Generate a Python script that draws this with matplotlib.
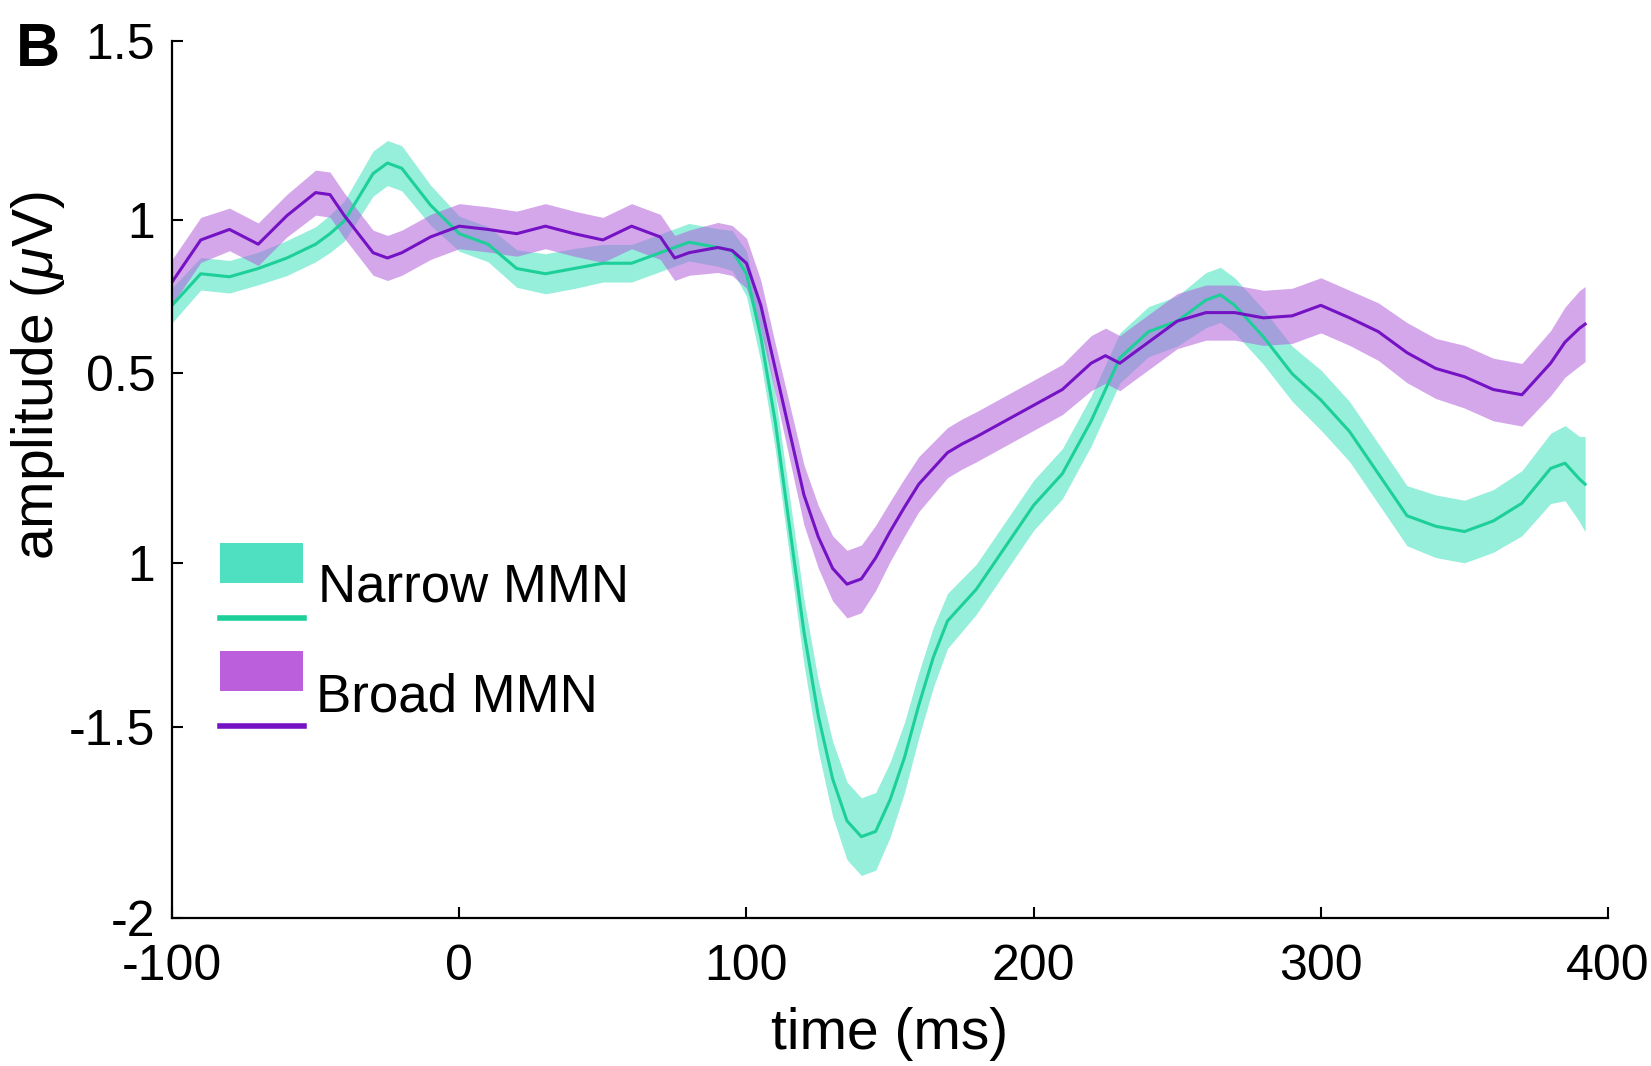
import numpy as np
import matplotlib
matplotlib.use('Agg')
import matplotlib.pyplot as plt
from matplotlib.patches import Rectangle
from matplotlib.lines import Line2D

plt.rcParams['font.family'] = ['Liberation Sans', 'DejaVu Sans']
plt.rcParams['mathtext.fontset'] = 'custom'
plt.rcParams['mathtext.it'] = 'Liberation Sans:italic'
plt.rcParams['mathtext.rm'] = 'Liberation Sans'

# time axis (ms), shared by both conditions
time_ms = [-100, -90, -80, -70, -60, -50, -45, -40, -30, -25, -20, -10, 0, 10, 20,
           30, 40, 50, 60, 70, 75, 80, 90, 95, 100, 105, 110, 115, 120, 125,
           130, 135, 140, 145, 150, 155, 160, 165, 170, 175, 180, 190, 200, 210, 220,
           225, 230, 240, 250, 260, 265, 270, 280, 290, 300, 310, 320, 330, 340, 350,
           360, 370, 380, 385, 390, 392]

# Narrow MMN mean and sem
narrow_mean = [0.445, 0.571, 0.559, 0.592, 0.634, 0.689, 0.731, 0.782, 0.971, 1.013,
               0.992, 0.845, 0.731, 0.689, 0.592, 0.571, 0.592, 0.613, 0.613, 0.655,
               0.676, 0.697, 0.676, 0.664, 0.571, 0.319, -0.017, -0.437, -0.857, -1.193,
               -1.445, -1.613, -1.676, -1.655, -1.529, -1.361, -1.151, -0.962, -0.815, -0.752,
               -0.689, -0.521, -0.353, -0.227, -0.017, 0.109, 0.235, 0.340, 0.382, 0.466,
               0.487, 0.445, 0.319, 0.172, 0.067, -0.059, -0.227, -0.395, -0.437, -0.458,
               -0.416, -0.345, -0.206, -0.185, -0.248, -0.269]
narrow_sem = [0.07, 0.065, 0.065, 0.065, 0.07, 0.07, 0.075, 0.08, 0.09, 0.09,
              0.09, 0.08, 0.07, 0.07, 0.075, 0.08, 0.08, 0.075, 0.075, 0.075,
              0.075, 0.075, 0.075, 0.08, 0.09, 0.1, 0.11, 0.12, 0.13, 0.14,
              0.15, 0.155, 0.155, 0.155, 0.15, 0.14, 0.13, 0.12, 0.11, 0.105,
              0.1, 0.1, 0.1, 0.1, 0.1, 0.1, 0.1, 0.1, 0.1, 0.11,
              0.11, 0.11, 0.11, 0.11, 0.12, 0.12, 0.12, 0.12, 0.125, 0.125,
              0.125, 0.13, 0.14, 0.15, 0.17, 0.19]

# Broad MMN mean and sem
broad_mean = [0.538, 0.706, 0.748, 0.689, 0.803, 0.895, 0.887, 0.803, 0.655, 0.634,
              0.655, 0.718, 0.761, 0.748, 0.731, 0.761, 0.731, 0.706, 0.761, 0.718,
              0.634, 0.655, 0.676, 0.664, 0.613, 0.445, 0.193, -0.059, -0.311, -0.479,
              -0.605, -0.668, -0.647, -0.563, -0.458, -0.361, -0.269, -0.206, -0.143, -0.109,
              -0.080, -0.017, 0.046, 0.109, 0.214, 0.244, 0.214, 0.298, 0.382, 0.416,
              0.416, 0.416, 0.395, 0.403, 0.445, 0.395, 0.340, 0.256, 0.193, 0.160,
              0.109, 0.088, 0.214, 0.298, 0.353, 0.370]
broad_sem = [0.09, 0.09, 0.085, 0.085, 0.085, 0.09, 0.09, 0.09, 0.09, 0.09,
             0.09, 0.09, 0.09, 0.09, 0.09, 0.09, 0.09, 0.09, 0.09, 0.09,
             0.09, 0.09, 0.1, 0.1, 0.1, 0.1, 0.1, 0.11, 0.12, 0.125,
             0.13, 0.135, 0.135, 0.13, 0.12, 0.115, 0.11, 0.105, 0.1, 0.1,
             0.1, 0.1, 0.1, 0.1, 0.11, 0.11, 0.11, 0.11, 0.11, 0.11,
             0.11, 0.11, 0.11, 0.11, 0.11, 0.11, 0.115, 0.12, 0.12, 0.125,
             0.125, 0.125, 0.13, 0.14, 0.15, 0.15]

# y tick positions (axis units) and the labels as printed
ytick_pos = [1.5, 0.786, 0.175, -0.583, -1.237, -2.0]
ytick_labels = ['1.5', '1', '0.5', '1', '-1.5', '-2']
xticks = [-100, 0, 100, 200, 300, 400]

teal_line = '#1dcf99'
teal_fill = '#3fe3bd'
purple_line = '#7412c4'
purple_fill = '#b25fdc'

t = np.array(time_ms)
nm, ns = np.array(narrow_mean), np.array(narrow_sem)
bm, bs = np.array(broad_mean), np.array(broad_sem)

fig = plt.figure(figsize=(16.51, 10.66), dpi=100)
ax = fig.add_axes([0.1042, 0.139, 0.8698, 0.8225])

ax.fill_between(t, nm - ns, nm + ns, color=teal_fill, alpha=0.55, lw=0)
ax.fill_between(t, bm - bs, bm + bs, color=purple_fill, alpha=0.55, lw=0)
ax.plot(t, nm, color=teal_line, lw=2.2)
ax.plot(t, bm, color=purple_line, lw=2.2)

ax.set_xlim(-100, 400)
ax.set_ylim(-2, 1.5)
ax.set_xticks(xticks)
ax.set_xticklabels([str(x) for x in xticks])
ax.set_yticks(ytick_pos)
ax.set_yticklabels(ytick_labels)
ax.tick_params(direction='in', length=8, width=1.5, labelsize=36)
ax.tick_params(axis='x', pad=19)
ax.tick_params(axis='y', pad=12)
for s in ['top', 'right']:
    ax.spines[s].set_visible(False)
for s in ['left', 'bottom']:
    ax.spines[s].set_linewidth(1.6)

ax.set_xlabel('time (ms)', fontsize=41, labelpad=12)
ax.set_ylabel('amplitude ($\\mu$V)', fontsize=41)
ax.yaxis.set_label_coords(-0.073, 0.618)

# hand-made legend
H = 1066.0
W = 1651.0
def box(x0, y0, x1, y1, c):
    fig.add_artist(Rectangle((x0 / W, 1 - y1 / H), (x1 - x0) / W, (y1 - y0) / H,
                             transform=fig.transFigure, color=c, lw=0))
def seg(x0, x1, y, c):
    fig.add_artist(Line2D([x0 / W, x1 / W], [1 - y / H, 1 - y / H],
                          transform=fig.transFigure, color=c, lw=4))
box(220, 543, 303, 583, '#4ee0c0')
seg(220, 304, 618, teal_line)
box(220, 651, 303, 691, '#bb5fdd')
seg(220, 304, 726, purple_line)
fig.text(318 / W, 1 - 588 / H, 'Narrow MMN', fontsize=38, va='center')
fig.text(316 / W, 1 - 697 / H, 'Broad MMN', fontsize=38, va='center')

fig.text(16 / W, 1 - 50 / H, 'B', fontsize=44, fontweight='bold', va='center')

fig.savefig('out.png', dpi=100)
